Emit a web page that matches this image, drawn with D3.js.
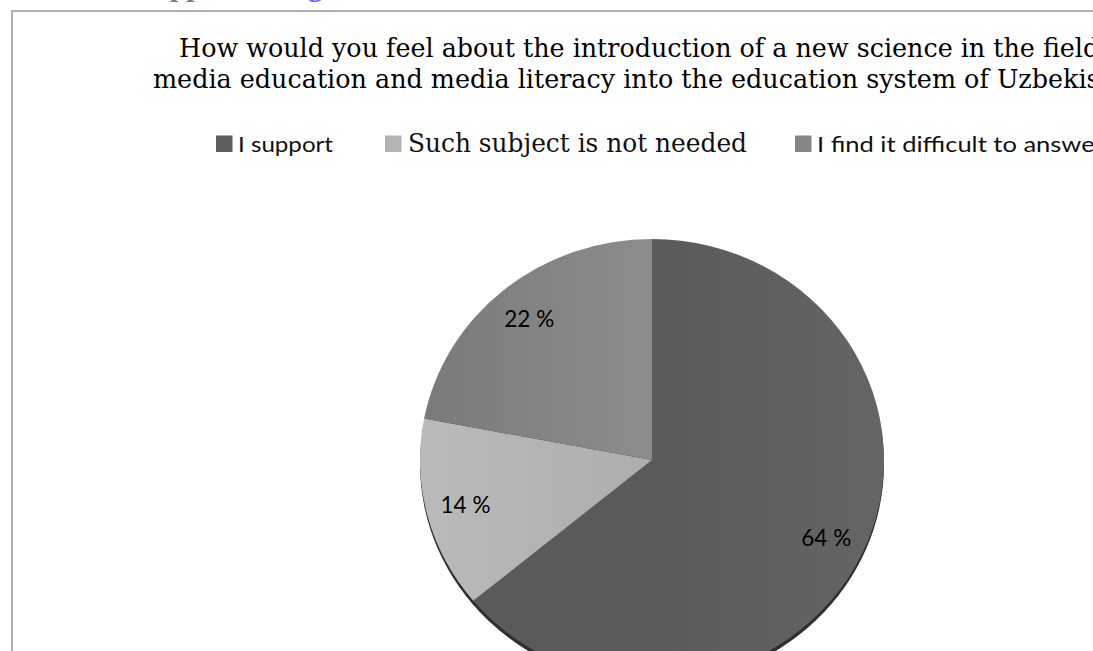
<!DOCTYPE html>
<html>
<head>
<meta charset="utf-8">
<script src="https://cdn.jsdelivr.net/npm/d3@7"></script>
<style>
  html, body { margin: 0; padding: 0; background: #fff; overflow: hidden; }
  svg { display: block; }
</style>
</head>
<body>
<svg id="chart" width="1093" height="651"></svg>
<script>
// Survey answers and their shares (percent)
const categories = ["I support", "Such subject is not needed", "I find it difficult to answer"];
const values = [64, 14, 22];
const titleLines = [
  "How would you feel about the introduction of a new science in the field of",
  "media education and media literacy into the education system of Uzbekistan?"
];

const palette = ["#5f5f5f", "#b3b3b3", "#858585"];
const color = d3.scaleOrdinal(categories, palette);

const svg = d3.select("#chart");

// Document text running above the chart frame
svg.append("text")
  .attr("x", 148).attr("y", -4)
  .attr("font-family", "Liberation Serif").attr("font-weight", "bold")
  .attr("font-size", 30).attr("fill", "#7a7a7a")
  .text("Appendix");
svg.append("text")
  .attr("x", 281).attr("y", -4)
  .attr("font-family", "Liberation Serif").attr("font-weight", "bold")
  .attr("font-size", 30).attr("fill", "#6d6dff")
  .text("Fig");

// Chart frame (continues past the right and bottom edges)
svg.append("rect")
  .attr("x", 12).attr("y", 11)
  .attr("width", 1400).attr("height", 800)
  .attr("fill", "#fff")
  .attr("stroke", "#9d9d9d").attr("stroke-width", 1.6);

// Title
const titleX = [179, 153];
const titleLen = [953, 1002];
svg.append("g").selectAll("text")
  .data(titleLines)
  .join("text")
  .attr("x", (d, i) => titleX[i])
  .attr("y", (d, i) => 57 + i * 31)
  .attr("font-family", "DejaVu Serif")
  .attr("font-size", 25.5)
  .attr("fill", "#000")
  .attr("textLength", (d, i) => titleLen[i])
  .attr("lengthAdjust", "spacingAndGlyphs")
  .text(d => d);

// Legend
const legendX = [216, 385, 795];
const legendFont = [
  { family: "Lato", size: 21, len: 95 },
  { family: "DejaVu Serif", size: 25.5, len: 339 },
  { family: "Lato", size: 21, len: 287 }
];
const legend = svg.append("g").selectAll("g")
  .data(categories)
  .join("g")
  .attr("transform", (d, i) => `translate(${legendX[i]},0)`);
legend.append("rect")
  .attr("x", 0).attr("y", 135.5)
  .attr("width", 16.5).attr("height", 16.5)
  .attr("fill", d => color(d));
legend.append("text")
  .attr("x", (d, i) => i === 1 ? 23 : 22)
  .attr("y", 151.5)
  .attr("font-family", (d, i) => legendFont[i].family)
  .attr("font-size", (d, i) => legendFont[i].size)
  .attr("fill", "#111")
  .attr("textLength", (d, i) => legendFont[i].len)
  .attr("lengthAdjust", "spacingAndGlyphs")
  .text(d => d);

// Pie: slightly tilted, drawn as an ellipse
const cx = 652, cy = 460, rx = 232, ry = 221, depth = 4;
const yScale = ry / rx;

const pie = d3.pie().sort(null).value(d => d)
  .startAngle(0).endAngle(2 * Math.PI);
const arcs = pie(values);
const arc = d3.arc().innerRadius(0).outerRadius(rx);
const labelArc = d3.arc().innerRadius(rx * 0.83).outerRadius(rx * 0.83);

const defs = svg.append("defs");
const shades = [
  ["#656565", "#5a5a5a"],
  ["#bababa", "#adadad"],
  ["#7a7a7a", "#8c8c8c"]
];
shades.forEach((s, i) => {
  const g = defs.append("linearGradient")
    .attr("id", "slice" + i)
    .attr("gradientUnits", "userSpaceOnUse")
    .attr("x1", -rx).attr("y1", 0).attr("x2", rx).attr("y2", 0);
  g.append("stop").attr("offset", "0%").attr("stop-color", i === 0 ? s[1] : s[0]);
  g.append("stop").attr("offset", "50%").attr("stop-color", s[1]);
  g.append("stop").attr("offset", "100%").attr("stop-color", i === 0 ? s[0] : s[1]);
});

// Side wall of the disc, seen along its lower rim
const wall = svg.append("g")
  .attr("transform", `translate(${cx},${cy + depth}) scale(1,${yScale})`);
wall.append("path")
  .attr("d", d3.arc().innerRadius(0).outerRadius(rx)({ startAngle: 0, endAngle: 2 * Math.PI }))
  .attr("fill", "#2f2f2f");

const pieG = svg.append("g")
  .attr("transform", `translate(${cx},${cy}) scale(1,${yScale})`);
pieG.selectAll("path")
  .data(arcs)
  .join("path")
  .attr("d", arc)
  .attr("fill", (d, i) => `url(#slice${i})`);

// Percentage labels
svg.append("g").selectAll("text")
  .data(arcs)
  .join("text")
  .attr("transform", d => {
    const [x, y] = labelArc.centroid(d);
    return `translate(${cx + x},${cy + y * yScale})`;
  })
  .attr("text-anchor", "middle")
  .attr("dy", "0.35em")
  .attr("font-family", "Lato")
  .attr("font-size", 22.5)
  .attr("fill", "#000")
  .text(d => `${d.data} %`);
</script>
</body>
</html>
